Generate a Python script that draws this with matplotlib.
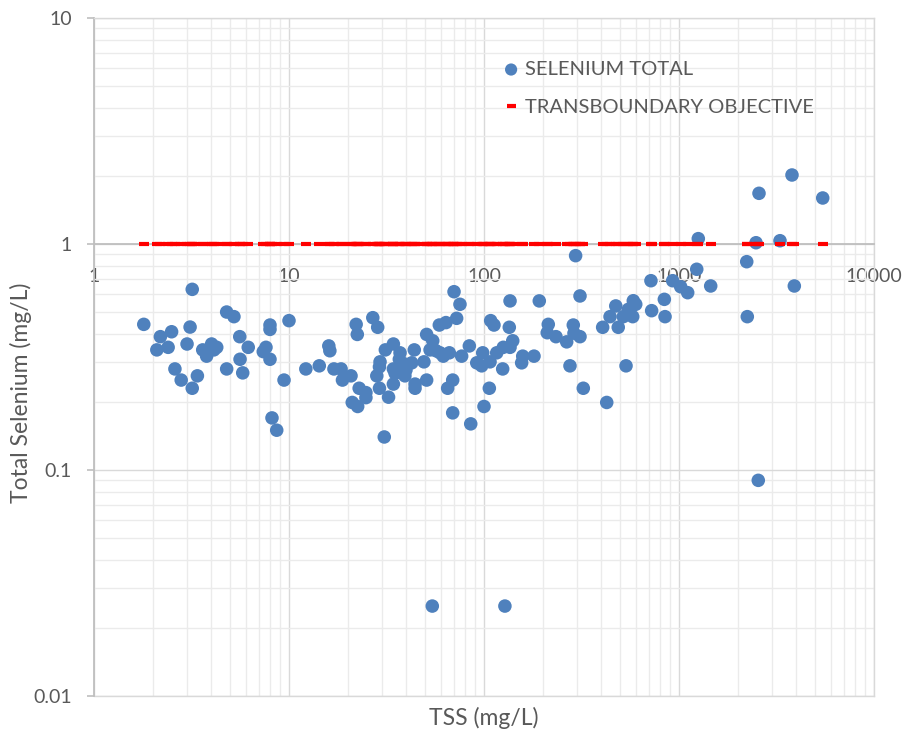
import matplotlib
matplotlib.use("Agg")
import matplotlib.pyplot as plt
from matplotlib.ticker import LogLocator, FixedLocator, NullFormatter

plt.rcParams['font.family'] = ['Lato', 'DejaVu Sans']

# TSS (mg/L) for each sample
tss = [
    3.19, 1.80, 2.19, 2.50, 2.10, 2.40, 3.11, 3.00, 4.79, 5.22,
    3.61, 4.01, 3.78, 4.26, 4.12, 5.59, 6.18, 5.61, 4.79, 5.79,
    2.60, 2.80, 3.39, 3.19, 7.99, 7.99, 10.0, 7.62, 7.38, 7.99,
    9.43, 8.18, 8.65,
    12.2, 14.3, 16.0, 16.2, 17.0, 18.5, 18.8, 20.8, 22.1, 22.4,
    26.9, 28.5, 22.9, 24.8, 24.8, 21.1, 22.5, 29.3, 29.1, 28.2,
    29.1, 32.4, 30.8, 31.2, 34.3, 37.1, 34.3, 35.0, 34.3, 36.8,
    39.3, 39.8, 39.3, 42.6, 43.9, 44.3, 44.3, 49.2, 50.8, 50.8,
    54.6, 52.9, 56.7, 59.0, 63.8, 72.4, 70.2, 75.3, 59.5, 61.8,
    66.4, 76.8, 84.1, 91.8, 69.1, 65.1, 69.1, 85.5,
    100, 106.5, 98.5, 97.3, 107.4, 116.2, 125.6, 124.7, 136, 140.4,
    134.8, 108.2, 112.5, 136, 192.1, 158, 156, 180.5, 211, 213.6,
    234, 265.5, 287, 289.4, 310.7, 276, 295, 310.7, 323, 406,
    426, 443, 474, 488, 535, 518, 550, 583, 600, 579,
    724, 718, 841, 848,
    928, 1020, 1108, 1233, 1256, 1454, 2225, 2240, 2483, 2572,
    3296, 3797, 3903, 5458, 2550, 54.3, 128,
]

# Total selenium (mg/L) for each sample
selenium = [
    0.630, 0.441, 0.389, 0.409, 0.340, 0.349, 0.429, 0.361, 0.500, 0.477,
    0.340, 0.361, 0.319, 0.349, 0.340, 0.389, 0.349, 0.309, 0.280, 0.269,
    0.280, 0.250, 0.261, 0.230, 0.438, 0.419, 0.458, 0.349, 0.334, 0.309,
    0.250, 0.170, 0.150,
    0.280, 0.289, 0.354, 0.337, 0.280, 0.280, 0.250, 0.261, 0.441, 0.398,
    0.472, 0.428, 0.230, 0.220, 0.209, 0.199, 0.191, 0.301, 0.286, 0.261,
    0.230, 0.210, 0.140, 0.340, 0.361, 0.330, 0.280, 0.268, 0.240, 0.309,
    0.294, 0.277, 0.261, 0.298, 0.340, 0.240, 0.230, 0.301, 0.250, 0.398,
    0.373, 0.340, 0.337, 0.438, 0.449, 0.469, 0.615, 0.541, 0.330, 0.319,
    0.330, 0.319, 0.354, 0.298, 0.250, 0.230, 0.179, 0.160,
    0.191, 0.230, 0.330, 0.289, 0.301, 0.330, 0.349, 0.280, 0.349, 0.373,
    0.428, 0.458, 0.438, 0.560, 0.560, 0.319, 0.298, 0.319, 0.405, 0.441,
    0.389, 0.369, 0.438, 0.403, 0.389, 0.289, 0.888, 0.589, 0.230, 0.428,
    0.199, 0.477, 0.532, 0.428, 0.289, 0.477, 0.514, 0.561, 0.541, 0.477,
    0.507, 0.688, 0.569, 0.477,
    0.688, 0.647, 0.609, 0.773, 1.056, 0.652, 0.835, 0.477, 1.013, 1.676,
    1.034, 2.02, 0.652, 1.598, 0.090, 0.025, 0.025,
]

# Transboundary objective, one value per sample
objective = [1.0] * len(tss)

series_labels = ["SELENIUM TOTAL", "TRANSBOUNDARY OBJECTIVE"]
x_ticks = [1, 10, 100, 1000, 10000]
y_ticks = [0.01, 0.1, 1, 10]

text_color = "#595959"
major_grid = "#D9D9D9"
minor_grid = "#EBEBEB"

fig = plt.figure(figsize=(9.11, 7.37), dpi=100)
ax = fig.add_axes([94 / 911, 1 - 696 / 737, 780 / 911, 678 / 737])

ax.set_xscale("log")
ax.set_yscale("log")
ax.set_xlim(1, 10000)
ax.set_ylim(0.01, 10)

ax.scatter(tss, selenium, s=95, color="#4F81BD", edgecolors="none",
           zorder=4, label=series_labels[0])
ax.plot(tss, objective, linestyle="none", marker="_", markersize=7.2,
        markeredgewidth=3.0, color="#FF0000", zorder=5, label=series_labels[1])

# grid: major and minor lines on both log axes
ax.xaxis.set_major_locator(FixedLocator(x_ticks))
ax.yaxis.set_major_locator(FixedLocator(y_ticks))
ax.xaxis.set_minor_locator(LogLocator(base=10, subs=range(2, 10)))
ax.yaxis.set_minor_locator(LogLocator(base=10, subs=range(2, 10)))
ax.xaxis.set_minor_formatter(NullFormatter())
ax.yaxis.set_minor_formatter(NullFormatter())
ax.set_xticklabels([str(v) for v in x_ticks])
ax.set_yticklabels([f"{v:g}" for v in y_ticks])

ax.grid(which="major", color=major_grid, linewidth=1.0, zorder=0)
ax.grid(which="minor", color=minor_grid, linewidth=1.0, zorder=0)
ax.set_axisbelow(True)

# horizontal axis crosses at y = 1
ax.spines["bottom"].set_position(("data", 1))
ax.spines["bottom"].set_color("#BFBFBF")
ax.spines["bottom"].set_linewidth(1.3)
ax.spines["bottom"].set_zorder(3)
ax.spines["left"].set_color("#BFBFBF")
ax.spines["left"].set_linewidth(1.3)
for side in ("top", "right"):
    ax.spines[side].set_color(major_grid)
    ax.spines[side].set_linewidth(1.0)
ax.axhline(0.01, color=major_grid, linewidth=1.0, zorder=1, clip_on=False)

ax.tick_params(axis="x", which="both", length=0, pad=17.5,
               labelsize=14, labelcolor=text_color)
ax.tick_params(axis="y", which="major", length=5, width=1.2, color="#BFBFBF",
               pad=11, labelsize=14, labelcolor=text_color)
ax.tick_params(axis="y", which="minor", length=0)

# axis titles
fig.text(21 / 911, 1 - 393 / 737, "Total Selenium (mg/L)", fontsize=16.5,
         color=text_color, ha="center", va="center", rotation=90)
fig.text(484 / 911, 1 - 718 / 737, "TSS (mg/L)", fontsize=16.5,
         color=text_color, ha="center", va="center")

leg = ax.legend(loc="upper left", bbox_to_anchor=(0.527, 0.937),
                frameon=False, fontsize=14.5, labelcolor=text_color,
                handlelength=0.6, handletextpad=0.4, labelspacing=1.04,
                borderpad=0, borderaxespad=0, markerscale=0.9)

fig.savefig("out.png", dpi=100)
